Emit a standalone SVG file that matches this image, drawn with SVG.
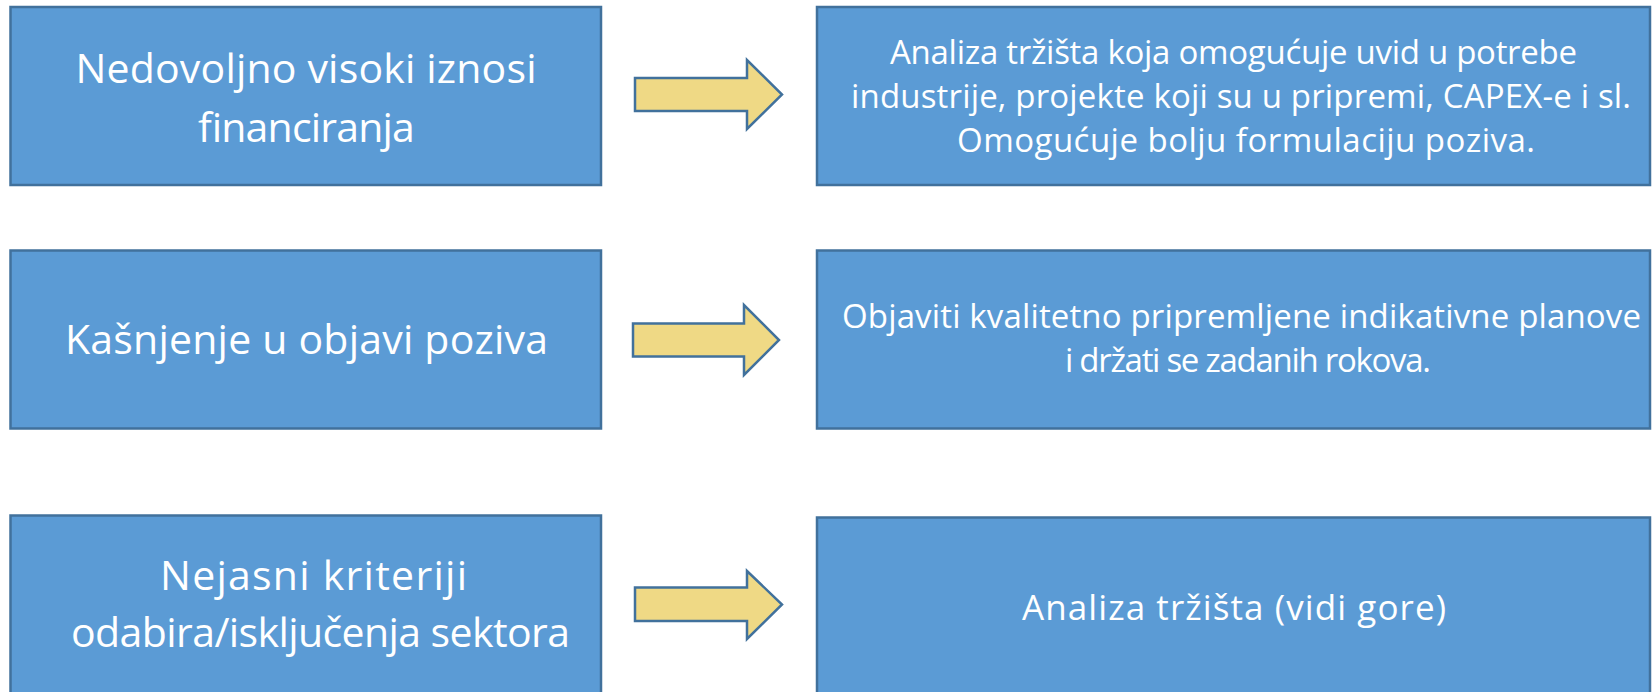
<svg xmlns="http://www.w3.org/2000/svg" width="1652" height="692" viewBox="0 0 1652 692">
<style>
.box{fill:#5B9BD5;stroke:#41719C;stroke-width:2.5}
.arr{fill:#EFD985;stroke:#41719C;stroke-width:2.5;stroke-linejoin:miter}
.t{font-family:"Open Sans","Liberation Sans",sans-serif;fill:#FFFFFF;text-anchor:middle}
.lg{font-size:41px}
.sm{font-size:33px}
.md{font-size:35px}
</style>
<rect width="1652" height="692" fill="#FFFFFF"/>
<g id="connectors">
<polygon class="arr" points="635,78 747,78 747,60 782,94.5 747,129 747,111 635,111"/>
<polygon class="arr" points="633,323.5 744,323.5 744,305 779,340 744,375 744,356.5 633,356.5"/>
<polygon class="arr" points="635,587.5 747,587.5 747,571 782,604.5 747,639 747,621 635,621"/>
</g>
<g id="node-left-1">
<rect class="box" x="10.5" y="7" width="590.5" height="178"/>
<text class="t lg" x="306" y="83" textLength="461">Nedovoljno visoki iznosi</text>
<text class="t lg" x="306" y="141.5" textLength="217">financiranja</text>
</g>
<g id="node-right-1">
<rect class="box" x="817" y="7" width="833" height="178"/>
<text class="t sm" x="1233.5" y="63.5" textLength="687">Analiza tržišta koja omogućuje uvid u potrebe</text>
<text class="t sm" x="1241" y="108" textLength="780">industrije, projekte koji su u pripremi, CAPEX-e i sl.</text>
<text class="t sm" x="1246" y="151.5" textLength="578">Omogućuje bolju formulaciju poziva.</text>
</g>
<g id="node-left-2">
<rect class="box" x="10.5" y="250.5" width="590.5" height="178"/>
<text class="t lg" x="306.5" y="354" textLength="483">Kašnjenje u objavi poziva</text>
</g>
<g id="node-right-2">
<rect class="box" x="817" y="250.5" width="833" height="178"/>
<text class="t sm" x="1241.5" y="327.5" textLength="799">Objaviti kvalitetno pripremljene indikativne planove</text>
<text class="t sm" x="1248" y="372" textLength="366">i držati se zadanih rokova.</text>
</g>
<g id="node-left-3">
<rect class="box" x="10.5" y="515.5" width="590.5" height="180"/>
<text class="t lg" x="313.5" y="590" textLength="307">Nejasni kriteriji</text>
<text class="t lg" x="320.5" y="647" textLength="499">odabira/isključenja sektora</text>
</g>
<g id="node-right-3">
<rect class="box" x="817" y="517.5" width="833" height="180"/>
<text class="t md" x="1234" y="620" textLength="424">Analiza tržišta (vidi gore)</text>
</g>
</svg>
